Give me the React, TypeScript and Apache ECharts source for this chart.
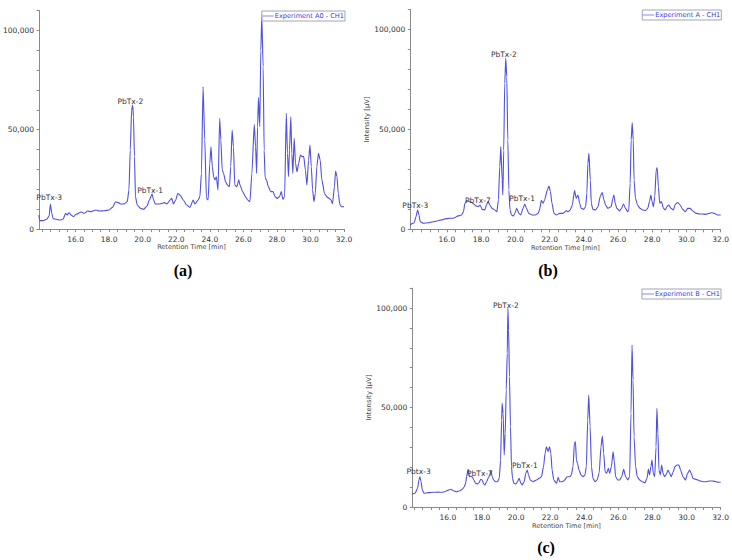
import React, { useEffect, useRef } from "react";
import * as echarts from "echarts";

// ---------- DATA ----------
// (a) Experiment A0 - CH1
const timesA0 = [13.81, 13.87, 14.07, 14.27, 14.42, 14.5, 14.58, 14.66, 14.86, 15.05, 15.25, 15.41, 15.5, 15.6, 15.74, 15.88, 16.03, 16.33, 16.53, 16.72, 16.92, 17.21, 17.41, 17.71, 18.0, 18.2, 18.39, 18.55, 18.69, 18.88, 19.08, 19.18, 19.26, 19.34, 19.4, 19.45, 19.51, 19.57, 19.67, 19.87, 20.06, 20.26, 20.4, 20.56, 20.65, 20.75, 20.95, 21.15, 21.3, 21.44, 21.64, 21.73, 21.83, 21.97, 22.09, 22.23, 22.42, 22.62, 22.82, 23.01, 23.11, 23.31, 23.41, 23.5, 23.6, 23.7, 23.8, 23.9, 24.0, 24.07, 24.15, 24.23, 24.31, 24.39, 24.49, 24.59, 24.66, 24.74, 24.82, 24.94, 25.06, 25.17, 25.25, 25.33, 25.41, 25.49, 25.61, 25.73, 25.8, 25.96, 26.12, 26.26, 26.39, 26.51, 26.65, 26.73, 26.79, 26.85, 26.9, 26.98, 27.04, 27.1, 27.18, 27.24, 27.3, 27.38, 27.49, 27.63, 27.77, 27.89, 28.02, 28.16, 28.26, 28.36, 28.46, 28.56, 28.63, 28.69, 28.75, 28.83, 28.89, 28.95, 29.03, 29.11, 29.2, 29.3, 29.4, 29.5, 29.6, 29.7, 29.79, 29.89, 29.97, 30.05, 30.13, 30.21, 30.29, 30.38, 30.48, 30.58, 30.68, 30.84, 30.97, 31.11, 31.23, 31.31, 31.43, 31.5, 31.58, 31.66, 31.76, 31.86, 32.0];
const intensityA0 = [7000, 4200, 4200, 4900, 6500, 12600, 7900, 5200, 4900, 4500, 4900, 7900, 7000, 8200, 7000, 6200, 7400, 8550, 7900, 9050, 8700, 9560, 9050, 9200, 9560, 10900, 13750, 13250, 12600, 12600, 13750, 19600, 39700, 59900, 62400, 56500, 36400, 16300, 12100, 10400, 9900, 11600, 14600, 17600, 14600, 12600, 12600, 12900, 13250, 12600, 14600, 15400, 12600, 14600, 17900, 17100, 14600, 12100, 10900, 14600, 12600, 14600, 16300, 28000, 71600, 44800, 15400, 14600, 33000, 41400, 31400, 26300, 24700, 26300, 19600, 55700, 44800, 29700, 28000, 23800, 22100, 21300, 31400, 49800, 41400, 22100, 21300, 24700, 22100, 18800, 16300, 14600, 13750, 28000, 52700, 41400, 28000, 51500, 66200, 51500, 90000, 106800, 81700, 39700, 25500, 24700, 21300, 18800, 18800, 16300, 15400, 16300, 18800, 14900, 16300, 58200, 38100, 26300, 39700, 56500, 38100, 28000, 45600, 33000, 28800, 33000, 37200, 36400, 36400, 29700, 22100, 34700, 42300, 31400, 19600, 13750, 17900, 31400, 38100, 34700, 24700, 17900, 16300, 15400, 14600, 12600, 21300, 29200, 26300, 17900, 12100, 11200, 11200];

// (b) Experiment A - CH1
const timesA = [13.86, 13.94, 14.09, 14.19, 14.29, 14.37, 14.44, 14.62, 14.91, 15.2, 15.49, 15.69, 15.88, 16.17, 16.37, 16.66, 16.86, 16.97, 17.05, 17.15, 17.28, 17.44, 17.57, 17.69, 17.83, 17.94, 18.06, 18.22, 18.31, 18.41, 18.51, 18.64, 18.8, 18.92, 19.01, 19.09, 19.15, 19.23, 19.27, 19.32, 19.38, 19.44, 19.5, 19.56, 19.62, 19.69, 19.77, 19.89, 19.97, 20.08, 20.2, 20.32, 20.45, 20.55, 20.65, 20.78, 20.98, 21.17, 21.33, 21.42, 21.52, 21.62, 21.71, 21.87, 21.97, 22.05, 22.14, 22.26, 22.39, 22.59, 22.78, 22.98, 23.08, 23.21, 23.33, 23.46, 23.56, 23.66, 23.76, 23.85, 23.99, 24.11, 24.18, 24.24, 24.3, 24.38, 24.44, 24.53, 24.69, 24.83, 24.96, 25.08, 25.18, 25.27, 25.41, 25.51, 25.6, 25.7, 25.76, 25.84, 25.93, 26.09, 26.21, 26.32, 26.44, 26.56, 26.63, 26.71, 26.77, 26.83, 26.89, 26.94, 27.02, 27.14, 27.29, 27.45, 27.61, 27.74, 27.84, 27.92, 27.99, 28.07, 28.15, 28.23, 28.29, 28.36, 28.44, 28.54, 28.66, 28.77, 28.85, 28.97, 29.1, 29.24, 29.36, 29.49, 29.63, 29.78, 29.94, 30.07, 30.21, 30.37, 30.56, 30.75, 30.95, 31.14, 31.34, 31.49, 31.63, 31.82, 32.0];
const intensityA = [2200, 2700, 3300, 6300, 9700, 7200, 3800, 3000, 3300, 3800, 4300, 4700, 5200, 5500, 5500, 6700, 7200, 8800, 13000, 14200, 13900, 13500, 12700, 11700, 11300, 12200, 10000, 9700, 12200, 13900, 12200, 10500, 9700, 8800, 14700, 31400, 41400, 24700, 17200, 39700, 73100, 85600, 76400, 44700, 19700, 9700, 7200, 6700, 8000, 10500, 8000, 7200, 10500, 12700, 10500, 8000, 7200, 7200, 8000, 10000, 14500, 13000, 14700, 19700, 21700, 18900, 13000, 8000, 7200, 8000, 8000, 9300, 8800, 9700, 12200, 19400, 15500, 17200, 13000, 10500, 10000, 11300, 18000, 33000, 38100, 24700, 13000, 10000, 9700, 11300, 16400, 18400, 14700, 12200, 10500, 11000, 11300, 15500, 17200, 13000, 10500, 9200, 10500, 12700, 10500, 8800, 9700, 23000, 44700, 53400, 44700, 24700, 15500, 12200, 10500, 9700, 9300, 10500, 13900, 17200, 13900, 11300, 16400, 29700, 30900, 21400, 13000, 13900, 10500, 9700, 11300, 12200, 10500, 9700, 12700, 13400, 12200, 10000, 8800, 10500, 10500, 9200, 8000, 7700, 7700, 7500, 8000, 8300, 8000, 7200, 7200];

// (c) Experiment B - CH1
const timesB = [13.91, 14.07, 14.22, 14.3, 14.36, 14.42, 14.5, 14.61, 14.85, 15.14, 15.43, 15.63, 15.82, 16.02, 16.18, 16.31, 16.51, 16.7, 16.84, 16.96, 17.04, 17.11, 17.19, 17.27, 17.35, 17.45, 17.52, 17.62, 17.74, 17.82, 17.93, 18.01, 18.09, 18.17, 18.27, 18.36, 18.46, 18.52, 18.6, 18.68, 18.79, 18.91, 19.01, 19.09, 19.15, 19.18, 19.24, 19.3, 19.36, 19.42, 19.48, 19.52, 19.56, 19.61, 19.67, 19.73, 19.79, 19.87, 19.99, 20.08, 20.18, 20.28, 20.36, 20.47, 20.57, 20.65, 20.73, 20.83, 21.0, 21.2, 21.35, 21.49, 21.61, 21.7, 21.78, 21.88, 21.96, 22.04, 22.11, 22.21, 22.37, 22.47, 22.56, 22.72, 22.85, 22.99, 23.15, 23.24, 23.34, 23.42, 23.48, 23.54, 23.6, 23.69, 23.81, 23.93, 24.04, 24.12, 24.2, 24.26, 24.34, 24.42, 24.51, 24.63, 24.75, 24.87, 24.98, 25.06, 25.14, 25.22, 25.31, 25.41, 25.49, 25.59, 25.69, 25.76, 25.84, 25.96, 26.08, 26.19, 26.31, 26.43, 26.55, 26.66, 26.74, 26.8, 26.86, 26.92, 27.01, 27.11, 27.25, 27.4, 27.56, 27.68, 27.76, 27.83, 27.91, 27.97, 28.05, 28.13, 28.21, 28.26, 28.32, 28.38, 28.46, 28.54, 28.62, 28.71, 28.81, 28.91, 29.01, 29.1, 29.2, 29.32, 29.44, 29.55, 29.65, 29.79, 29.94, 30.06, 30.18, 30.28, 30.37, 30.53, 30.67, 30.8, 30.96, 31.16, 31.35, 31.51, 31.64, 31.84, 32.0];
const intensityB = [6500, 6900, 9400, 13600, 15200, 12700, 8500, 6900, 7200, 7400, 7500, 7400, 7700, 8500, 8900, 8200, 7700, 8200, 8900, 10200, 11900, 16100, 18900, 15200, 15600, 14900, 13600, 11900, 11600, 12200, 13900, 13600, 11600, 11100, 12700, 14400, 16100, 18300, 15200, 13600, 12700, 12700, 14400, 23600, 43700, 52100, 47100, 26100, 37000, 58800, 77200, 99800, 88900, 65500, 40400, 20300, 14400, 11900, 11600, 12700, 14400, 11900, 11100, 12700, 16900, 18600, 16100, 13600, 12700, 13600, 14400, 15200, 20300, 27000, 30300, 27800, 30300, 27000, 18600, 13600, 11900, 14900, 12700, 12700, 13600, 15200, 15200, 16100, 20300, 32000, 32800, 23600, 21900, 18600, 16100, 15200, 16100, 20300, 43700, 56300, 40400, 20300, 14400, 12700, 13600, 16900, 30300, 35700, 27000, 17800, 16900, 19400, 16900, 20300, 27800, 22800, 15200, 13600, 13600, 15200, 18900, 15200, 13600, 15200, 47100, 81400, 63800, 35300, 20300, 15200, 13600, 12700, 12200, 14400, 18900, 16100, 20300, 23600, 16900, 15200, 30300, 49600, 37000, 18600, 16100, 21100, 16900, 15200, 16400, 18600, 16900, 15200, 17300, 20300, 21100, 21100, 18600, 15200, 13600, 16900, 18600, 16900, 14400, 13900, 13600, 13100, 12700, 12700, 13100, 13100, 12900, 12400, 12400];

// peak annotations
const labelNamesA0 = ["PbTx-3", "PbTx-2", "PbTx-1"];
const labelTimesA0 = [14.43, 19.26, 20.44];
const labelValuesA0 = [15600, 64400, 19600];
const labelNamesA = ["PbTx-3", "PbTx-7", "PbTx-2", "PbTx-1"];
const labelTimesA = [14.15, 17.81, 19.33, 20.39];
const labelValuesA = [11700, 14200, 87800, 15200];
const labelNamesB = ["Pbtx-3", "PbTx-7", "PbTx-2", "PbTx-1"];
const labelTimesB = [14.28, 17.88, 19.4, 20.51];
const labelValuesB = [17700, 16900, 101500, 20750];

const seriesNames = ["Experiment A0 - CH1", "Experiment A - CH1", "Experiment B - CH1"];
const xLabelValues = [16, 18, 20, 22, 24, 26, 28, 30, 32];
const xTickValues = [14, 14.5, 15, 15.5, 16, 16.5, 17, 17.5, 18, 18.5, 19, 19.5, 20, 20.5, 21, 21.5, 22, 22.5, 23, 23.5, 24, 24.5, 25, 25.5, 26, 26.5, 27, 27.5, 28, 28.5, 29, 29.5, 30, 30.5, 31, 31.5, 32];
const yLabelValues = [0, 50000, 100000];
const captions = ["(a)", "(b)", "(c)"];

// ---------- STYLE ----------
const FONT = "DejaVu Sans";
const LINE = "#4f4fe2";
const AXIS = "#8a8a8a";

const fmtThousands = (v: number) => String(Math.round(v)).replace(/\B(?=(\d{3})+(?!\d))/g, ",");

function makeXAxis(gridIndex: number, min: number, nameGap: number) {
  return {
    type: "value",
    gridIndex,
    min,
    max: 32,
    axisLine: { show: true, onZero: false, lineStyle: { color: AXIS, width: 1 } },
    axisTick: { show: true, customValues: xTickValues, length: 3, lineStyle: { color: AXIS } },
    axisLabel: {
      customValues: xLabelValues,
      formatter: (v: number) => v.toFixed(1),
      fontSize: 7.5,
      color: "#333",
      fontFamily: FONT,
      margin: 6,
    },
    splitLine: { show: false },
    name: "Retention Time [min]",
    nameLocation: "middle",
    nameGap,
    nameTextStyle: { fontSize: 6.5, color: "#444", fontFamily: FONT },
  };
}

function makeYAxis(gridIndex: number, withName: boolean) {
  return {
    type: "value",
    gridIndex,
    min: 0,
    max: 110000,
    interval: 10000,
    axisLine: { show: true, onZero: false, lineStyle: { color: AXIS, width: 1 } },
    axisTick: { show: true, length: 2.5, lineStyle: { color: AXIS } },
    axisLabel: {
      customValues: yLabelValues,
      formatter: (v: number) => fmtThousands(v),
      fontSize: 7.5,
      color: "#333",
      fontFamily: FONT,
      margin: 5,
    },
    splitLine: { show: false },
    name: withName ? "Intensity [\u00b5V]" : "",
    nameLocation: "middle",
    nameGap: 36,
    nameTextStyle: { fontSize: 6.8, color: "#444", fontFamily: FONT },
  };
}

function makeSeries(i: number, times: number[], values: number[], ln: string[], lt: number[], lv: number[]) {
  return {
    type: "line",
    name: seriesNames[i],
    xAxisIndex: i,
    yAxisIndex: i,
    data: times.map((t, k) => [t, values[k]]),
    showSymbol: false,
    symbol: "none",
    smooth: 0.2,
    smoothMonotone: "x",
    lineStyle: { color: LINE, width: 1.1 },
    itemStyle: { color: LINE },
    markPoint: {
      symbol: "circle",
      symbolSize: 1,
      itemStyle: { color: "rgba(0,0,0,0)" },
      label: {
        show: true,
        position: "inside",
        formatter: (p: any) => p.name,
        fontSize: 7.5,
        color: "#333",
        fontFamily: FONT,
      },
      data: ln.map((n, k) => ({ name: n, coord: [lt[k], lv[k]] })),
    },
  };
}

function makeLegend(i: number, right: number, top: number) {
  return {
    data: [{ name: seriesNames[i], icon: "rect" }],
    right,
    top,
    orient: "horizontal",
    selectedMode: false,
    itemWidth: 12,
    itemHeight: 1,
    itemStyle: { color: "#8888ec" },
    lineStyle: { opacity: 0 },
    padding: [1, 1, 1, 0],
    borderColor: "#a4a4b4",
    borderWidth: 1,
    borderRadius: 0,
    textStyle: { color: "#3a3ad8", fontSize: 6.6, fontFamily: FONT, lineHeight: 8, padding: [0, 0, 0, -4] },
  };
}

const captionStyle = {
  font: "bold 16px 'Liberation Serif', 'Times New Roman', serif",
  fill: "#000",
  align: "center",
  verticalAlign: "middle",
};

export default function App() {
  const ref = useRef<HTMLDivElement>(null);
  useEffect(() => {
    if (!ref.current) return;
    const chart = echarts.init(ref.current, null, { renderer: "svg" });
    const option: any = {
      animation: false,
      backgroundColor: "#ffffff",
      grid: [
        { left: 35.7, top: 10.4, width: 308.3, height: 218.6 },
        { left: 410.3, top: 9.7, width: 311, height: 219.6 },
        { left: 412.3, top: 288.1, width: 308.7, height: 218.9 },
      ],
      xAxis: [makeXAxis(0, 13.82, 14), makeXAxis(1, 13.86, 14), makeXAxis(2, 13.91, 15)],
      yAxis: [makeYAxis(0, false), makeYAxis(1, true), makeYAxis(2, true)],
      legend: [makeLegend(0, 387, 11), makeLegend(1, 10.7, 10), makeLegend(2, 11, 289)],
      series: [
        makeSeries(0, timesA0, intensityA0, labelNamesA0, labelTimesA0, labelValuesA0),
        makeSeries(1, timesA, intensityA, labelNamesA, labelTimesA, labelValuesA),
        makeSeries(2, timesB, intensityB, labelNamesB, labelTimesB, labelValuesB),
      ],
      graphic: [
        { type: "text", x: 183, y: 270, style: { ...captionStyle, text: captions[0] } },
        { type: "text", x: 548, y: 270, style: { ...captionStyle, text: captions[1] } },
        { type: "text", x: 546, y: 547, style: { ...captionStyle, text: captions[2] } },
      ],
    };
    chart.setOption(option);
    return () => chart.dispose();
  }, []);
  return (
    <div
      ref={ref}
      style={{ position: "absolute", left: 0, top: 0, width: 732, height: 560, background: "#fff" }}
    />
  );
}
